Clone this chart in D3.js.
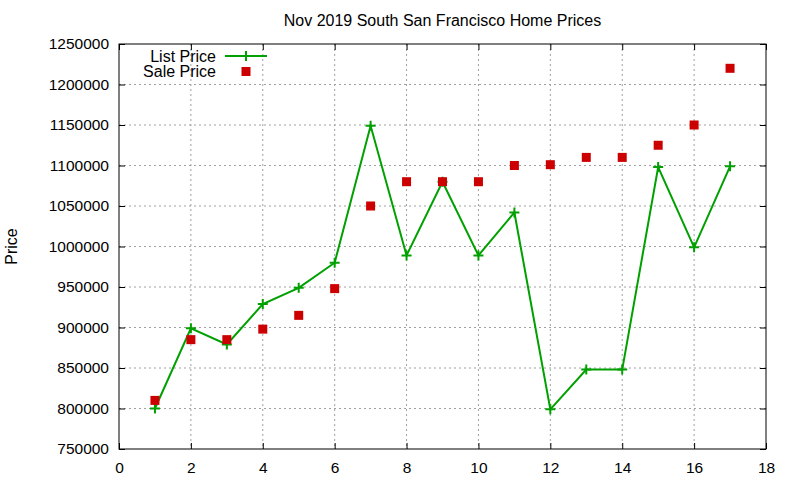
<!DOCTYPE html>
<html>
<head>
<meta charset="utf-8">
<script src="https://cdn.jsdelivr.net/npm/d3@7"></script>
<style>
body { margin: 0; background: #fff; }
text { font-family: "Liberation Sans", Arial, sans-serif; font-size: 16px; fill: #000; }
</style>
</head>
<body>
<div id="chart"></div>
<script>
// data
var days = [1, 2, 3, 4, 5, 6, 7, 8, 9, 10, 11, 12, 13, 14, 15, 16, 17];
var listPrice = [800000, 899000, 879000, 929000, 949000, 980000, 1149000, 989000, 1080000,
                 989000, 1042000, 799000, 848000, 848000, 1098000, 999000, 1099000];
var salePrice = [810000, 885000, 885000, 898000, 915000, 948000, 1050000, 1080000, 1080000,
                 1080000, 1100000, 1101000, 1110000, 1110000, 1125000, 1150000, 1220000];
var xTicks = [0, 2, 4, 6, 8, 10, 12, 14, 16, 18];
var yTicks = [750000, 800000, 850000, 900000, 950000, 1000000, 1050000, 1100000, 1150000, 1200000, 1250000];

var W = 800, H = 480;
var margin = {top: 44, right: 34, bottom: 31, left: 119},
	width = W - margin.left - margin.right,
	height = H - margin.top - margin.bottom;

var svg = d3.select("#chart").append("svg")
	.attr("width", W)
	.attr("height", H);

var x = d3.scaleLinear().domain([0, 18]).range([0, width]);
var y = d3.scaleLinear().domain([750000, 1250000]).range([height, 0]);

var g = svg.append("g")
	.attr("transform", "translate(" + margin.left + "," + margin.top + ")");

// grid
g.selectAll(".vgrid")
	.data(xTicks.slice(1, -1))
  .enter().append("line")
	.attr("x1", function(d) { return x(d); })
	.attr("x2", function(d) { return x(d); })
	.attr("y1", 0).attr("y2", height)
	.attr("stroke", "#a0a0a0").attr("stroke-width", 1).attr("stroke-dasharray", "2,3");
g.selectAll(".hgrid")
	.data(yTicks.slice(1, -1))
  .enter().append("line")
	.attr("y1", function(d) { return y(d); })
	.attr("y2", function(d) { return y(d); })
	.attr("x1", 0).attr("x2", width)
	.attr("stroke", "#a0a0a0").attr("stroke-width", 1).attr("stroke-dasharray", "2,3");

// axes, ticks inward and mirrored
g.append("g")
	.attr("transform", "translate(0," + height + ")")
	.call(d3.axisBottom(x).tickValues(xTicks).tickSizeInner(-6).tickSizeOuter(0).tickPadding(13));
g.append("g")
	.call(d3.axisTop(x).tickValues(xTicks).tickSizeInner(-6).tickSizeOuter(0).tickFormat(""));
g.append("g")
	.call(d3.axisLeft(y).tickValues(yTicks).tickSizeInner(-6).tickSizeOuter(0).tickPadding(10).tickFormat(d3.format("d")));
g.append("g")
	.attr("transform", "translate(" + width + ",0)")
	.call(d3.axisRight(y).tickValues(yTicks).tickSizeInner(-6).tickSizeOuter(0).tickFormat(""));

g.selectAll(".domain").remove();
g.selectAll(".tick line").attr("stroke", "#000");
g.selectAll(".tick text").style("font-size", "15.5px").attr("fill", "#000");

g.append("rect")
	.attr("width", width).attr("height", height)
	.attr("fill", "none").attr("stroke", "#000").attr("stroke-width", 1);

// list price line
var line = d3.line()
	.x(function(d, i) { return x(days[i]); })
	.y(function(d) { return y(d); });

g.append("path")
	.datum(listPrice)
	.attr("fill", "none")
	.attr("stroke", "#00a000")
	.attr("stroke-width", 2)
	.attr("d", line);

function plus(sel, cx, cy) {
	sel.append("path")
		.attr("d", "M" + (cx - 5) + "," + cy + "H" + (cx + 5) + "M" + cx + "," + (cy - 5) + "V" + (cy + 5))
		.attr("stroke", "#00a000").attr("stroke-width", 2).attr("fill", "none");
}
listPrice.forEach(function(d, i) { plus(g, x(days[i]), y(d)); });

// sale price squares
g.selectAll(".sale")
	.data(salePrice)
  .enter().append("rect")
	.attr("x", function(d, i) { return x(days[i]) - 4.5; })
	.attr("y", function(d) { return y(d) - 4.5; })
	.attr("width", 9).attr("height", 9)
	.attr("fill", "#cc0000");

// legend
svg.append("text").attr("x", 216).attr("y", 61.5).attr("text-anchor", "end").text("List Price");
svg.append("line").attr("x1", 225).attr("x2", 267).attr("y1", 56).attr("y2", 56)
	.attr("stroke", "#00a000").attr("stroke-width", 2);
plus(svg, 246, 56);
svg.append("text").attr("x", 216).attr("y", 77).attr("text-anchor", "end").text("Sale Price");
svg.append("rect").attr("x", 241.5).attr("y", 67).attr("width", 9).attr("height", 9).attr("fill", "#cc0000");

// title and y label
svg.append("text")
	.attr("x", margin.left + width / 2).attr("y", 26)
	.attr("text-anchor", "middle")
	.text("Nov 2019 South San Francisco Home Prices");
svg.append("text")
	.attr("transform", "translate(17," + (margin.top + height / 2) + ") rotate(-90)")
	.attr("text-anchor", "middle")
	.text("Price");
</script>
</body>
</html>
